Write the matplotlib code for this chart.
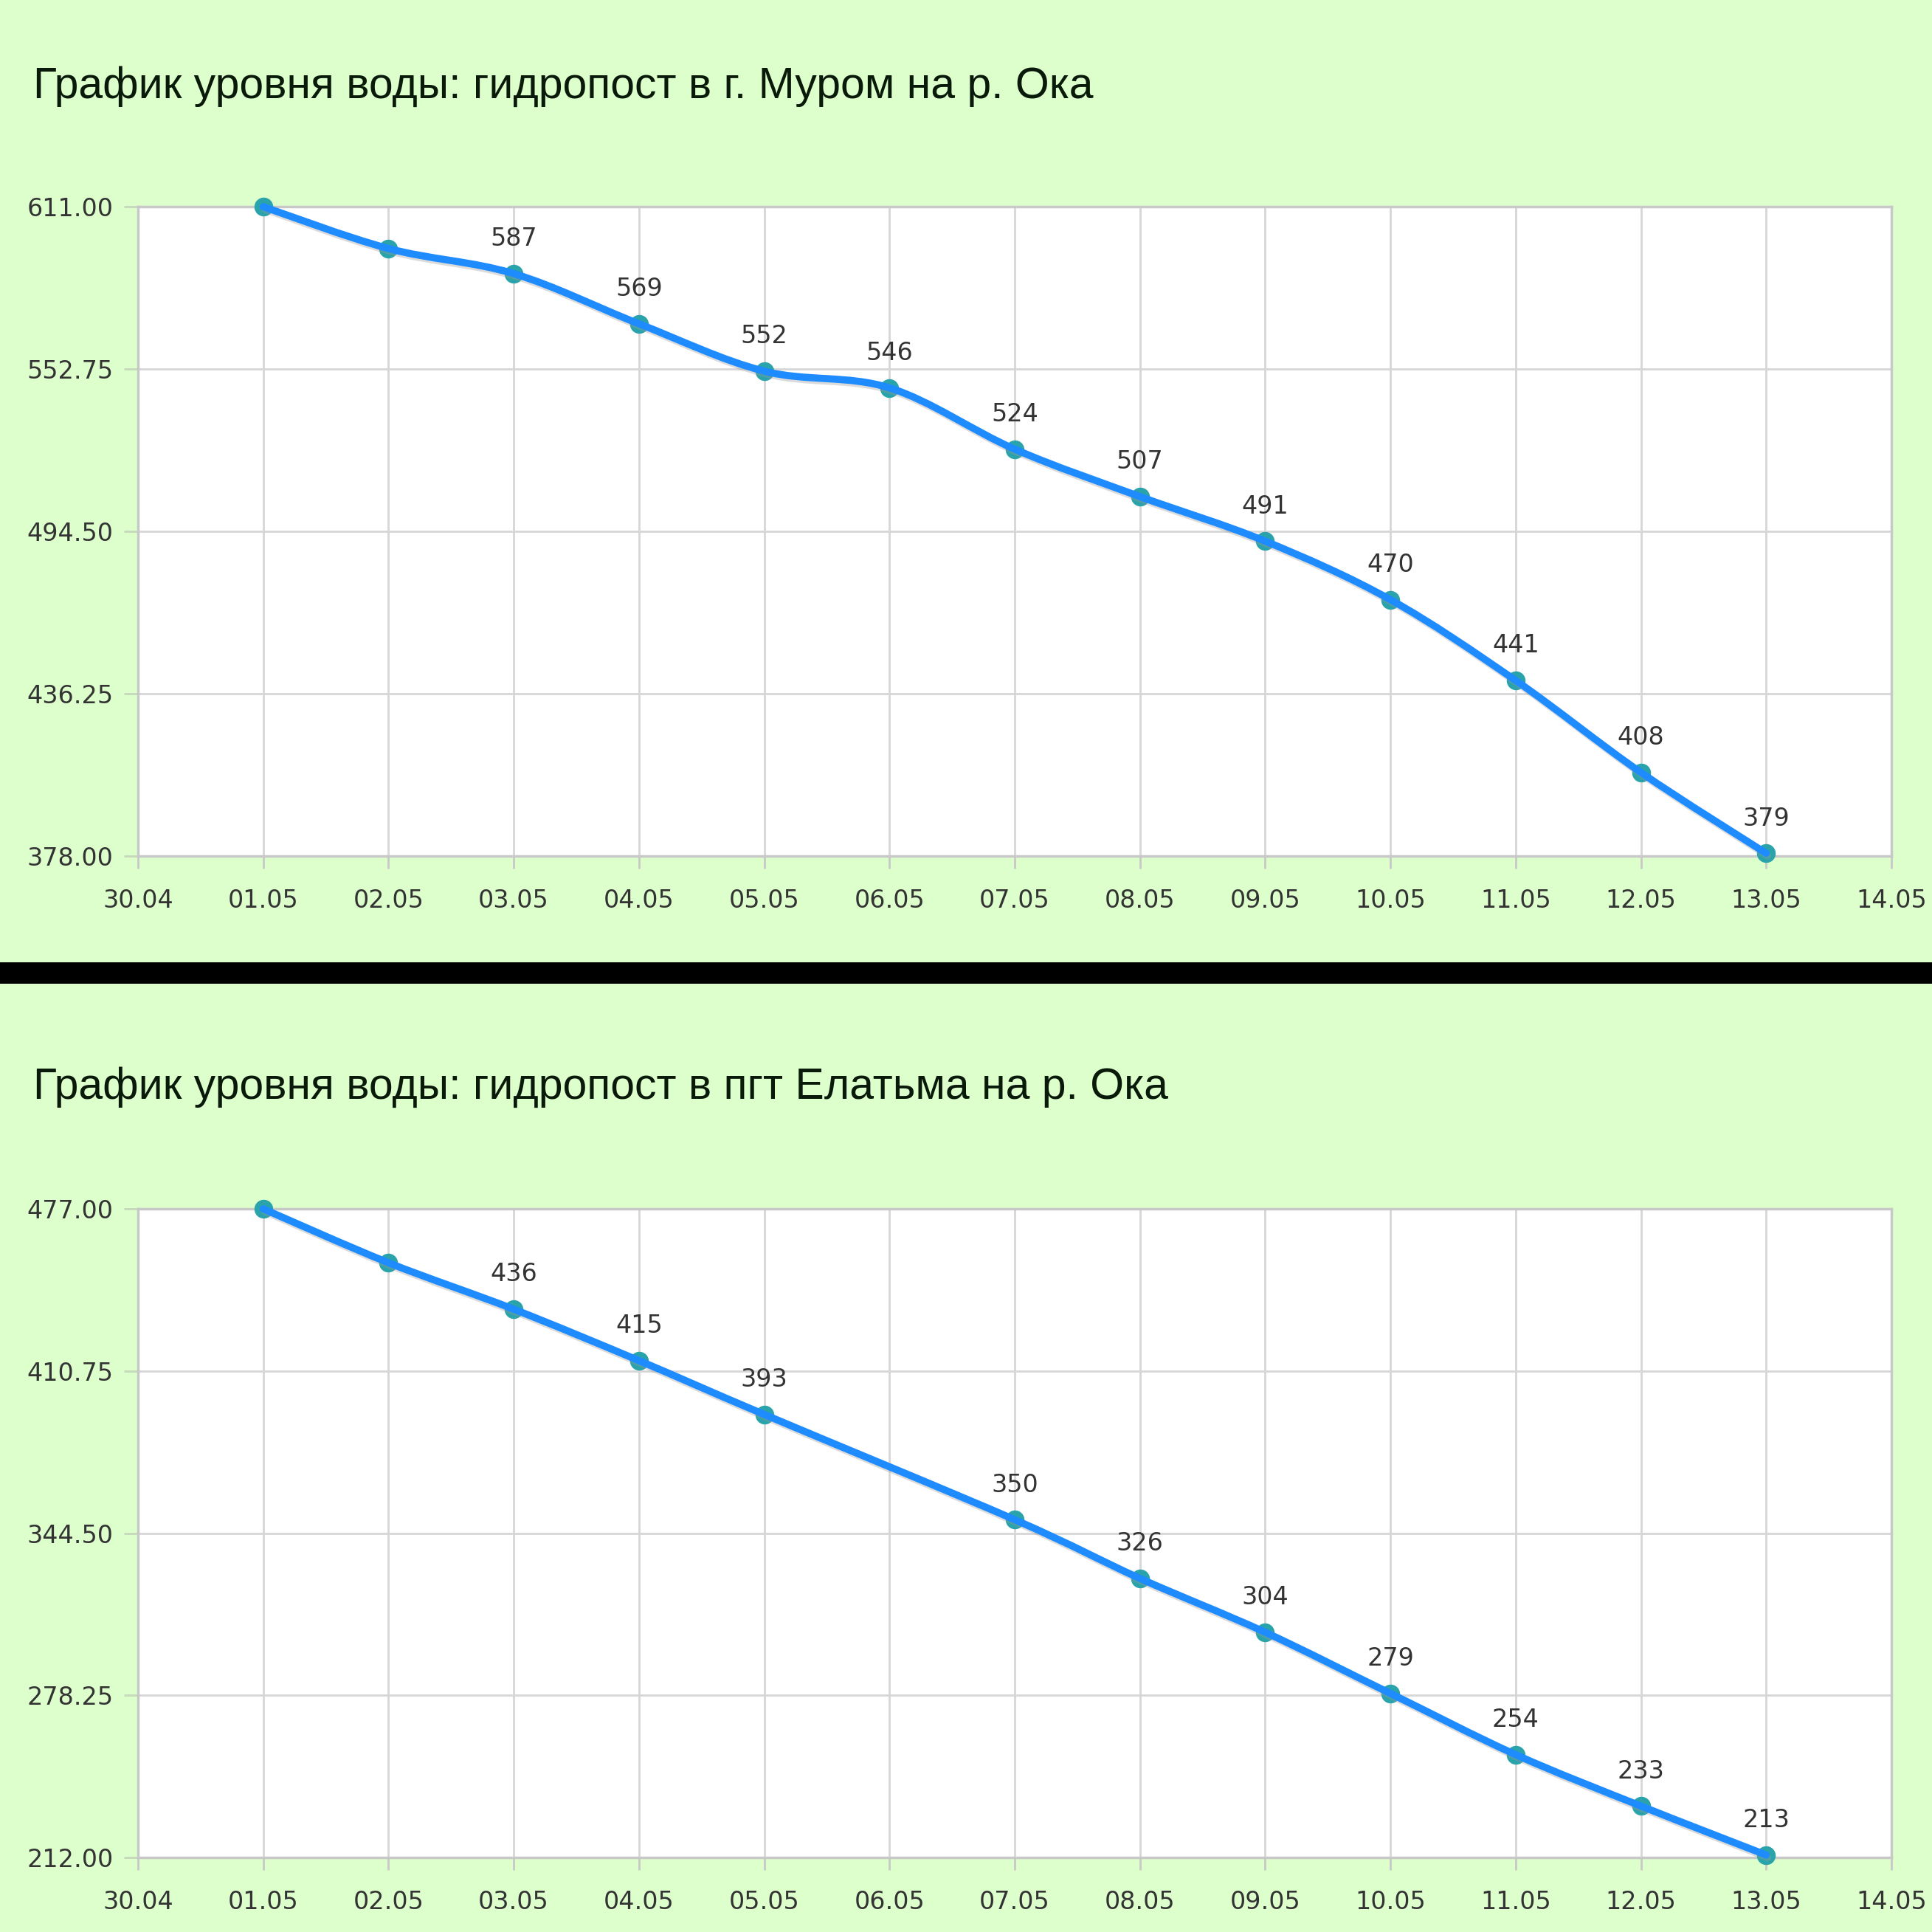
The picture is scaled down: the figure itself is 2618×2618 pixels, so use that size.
import numpy as np
import matplotlib
matplotlib.use("Agg")
import matplotlib.pyplot as plt
from matplotlib.path import Path
from matplotlib.patches import PathPatch, Rectangle
import matplotlib.patheffects as pe

# Даты (подписи оси X) и уровни воды
date_labels = ['30.04', '01.05', '02.05', '03.05', '04.05', '05.05', '06.05',
               '07.05', '08.05', '09.05', '10.05', '11.05', '12.05', '13.05', '14.05']
days = list(range(1, 14))  # 01.05 ... 13.05

murom_title = 'График уровня воды: гидропост в г. Муром на р. Ока'
murom_levels = [611, 596, 587, 569, 552, 546, 524, 507, 491, 470, 441, 408, 379]
murom_yticks = [378.00, 436.25, 494.50, 552.75, 611.00]

elatma_title = 'График уровня воды: гидропост в пгт Елатьма на р. Ока'
elatma_levels = [477, 455, 436, 415, 393, None, 350, 326, 304, 279, 254, 233, 213]
elatma_yticks = [212.00, 278.25, 344.50, 410.75, 477.00]

# какие точки подписаны (первые две без подписи)
label_from = 2

BG = '#ddffcc'
LINE = '#1e8cff'
MARK = '#2aa3aa'
TXT = '#333333'


def smooth_path(xs, ys):
    # кривая Безье через точки (Catmull-Rom)
    pts = np.column_stack([xs, ys]).astype(float)
    verts = [pts[0]]
    codes = [Path.MOVETO]
    n = len(pts)
    for i in range(n - 1):
        p0 = pts[i - 1] if i > 0 else pts[i]
        p1 = pts[i]
        p2 = pts[i + 1]
        p3 = pts[i + 2] if i + 2 < n else pts[i + 1]
        c1 = p1 + (p2 - p0) / 6.0
        c2 = p2 - (p3 - p1) / 6.0
        verts += [c1, c2, p2]
        codes += [Path.CURVE4] * 3
    return Path(verts, codes)


def draw_chart(fig, rect, title, title_y, levels, yticks):
    ax = fig.add_axes(rect)
    ax.set_facecolor('white')
    xs = [d for d, v in zip(days, levels) if v is not None]
    ys = [v for v in levels if v is not None]

    patch = PathPatch(smooth_path(xs, ys), facecolor='none', edgecolor=LINE,
                      lw=7, capstyle='round', joinstyle='round', zorder=4,
                      clip_on=False)
    patch.set_path_effects([pe.SimpleLineShadow(offset=(1.5, -2.5), shadow_color='#999999', alpha=0.35),
                            pe.Normal()])
    ax.scatter(xs, ys, s=300, color=MARK, zorder=3, clip_on=False)

    for i, (x, y) in enumerate(zip(xs, ys)):
        if i < label_from:
            continue
        ax.annotate(str(y), (x, y), xytext=(0, 34), textcoords='offset points',
                    ha='center', va='center', fontsize=24, color=TXT, zorder=5)
    ax.add_patch(patch)

    ax.set_xlim(0, 14)
    ax.set_ylim(yticks[0], yticks[-1])
    ax.set_xticks(range(15))
    ax.set_xticklabels(date_labels)
    ax.set_yticks(yticks)
    ax.set_yticklabels(['%.2f' % t for t in yticks])
    ax.grid(True, color='#d6d6d6', lw=2)
    ax.set_axisbelow(True)
    for s in ax.spines.values():
        s.set_color('#c8c8c8')
        s.set_linewidth(2.5)
    ax.tick_params(axis='x', length=12, width=2, color='#c8c8c8', pad=20,
                   labelsize=24, labelcolor=TXT)
    ax.tick_params(axis='y', length=14, width=2, color='#c6d8bc', pad=10,
                   labelsize=24, labelcolor=TXT)
    fig.text(0.0172, title_y, title, fontsize=42.4, family='Liberation Sans',
             color='#0a1a0a', va='baseline', ha='left')
    return ax


fig = plt.figure(figsize=(26.18, 26.18), dpi=100)
fig.patch.set_facecolor(BG)

draw_chart(fig, [0.0714, 0.5569, 0.9076, 0.3361], murom_title, 0.9492,
           murom_levels, murom_yticks)
draw_chart(fig, [0.0714, 0.0386, 0.9076, 0.3357], elatma_title, 0.4312,
           elatma_levels, elatma_yticks)

# чёрная полоса-разделитель
fig.patches.append(Rectangle((0, 0.4908), 1, 0.0111, transform=fig.transFigure,
                             facecolor='black', edgecolor='none'))

fig.savefig('out.png', dpi=100, facecolor=BG)
